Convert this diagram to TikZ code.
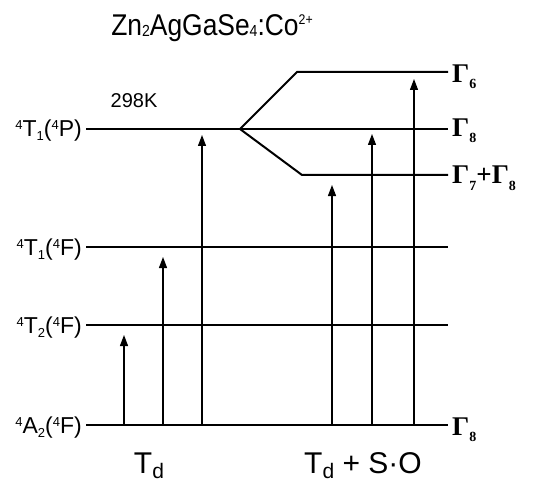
\documentclass[tikz,border=0pt]{standalone}
\usepackage{fontspec}
\setmainfont{Liberation Sans}
\newfontfamily\gfont{Liberation Serif}
\newfontfamily\titlefont[FakeStretch=0.88]{Liberation Sans}
\usetikzlibrary{arrows.meta}
\newcommand\lsup[1]{\raisebox{7pt}{\fontsize{13}{13}\selectfont #1}}
\newcommand\lsub[1]{\raisebox{-4pt}{\fontsize{13}{13}\selectfont #1}}
\newcommand\gsub[1]{\raisebox{-6pt}{\fontsize{14}{14}\selectfont #1}}
\newcommand\tsub[1]{\raisebox{-1pt}{\fontsize{16}{16}\selectfont #1}}
\newcommand\dsub[1]{\raisebox{-5pt}{\fontsize{21}{21}\selectfont #1}}
\begin{document}
\begin{tikzpicture}[x=1pt,y=-1pt,
  level/.style={line width=1.6pt},
  branch/.style={line width=2pt, line join=miter},
  trans/.style={line width=1.3pt, -{Triangle[length=11pt,width=8pt]}},
  lab/.style={font=\fontsize{23}{23}\selectfont, anchor=base east, inner sep=0pt},
  glab/.style={font=\gfont\bfseries\fontsize{27}{27}\selectfont, anchor=base west, inner sep=0pt},
  big/.style={font=\fontsize{30}{30}\selectfont, anchor=base, inner sep=0pt}
]
\useasboundingbox (0,0) rectangle (533,484);

% title
\node[font=\titlefont\fontsize{30}{30}\selectfont, anchor=base, inner sep=0pt] (title) at (212,36)
  {Zn\tsub{2}AgGaSe\tsub{4}:Co\raisebox{11pt}{\fontsize{14}{14}\selectfont 2+}};
\node[font=\fontsize{20}{20}\selectfont, anchor=base, inner sep=0pt] (temp) at (134,108) {298K};

% level end points
\coordinate (pL) at (86,129);  \coordinate (J) at (240,129);  \coordinate (pR) at (448,129);
\coordinate (uC) at (297,72);  \coordinate (uR) at (448,72);
\coordinate (lC) at (302,175); \coordinate (lR) at (448,175);
\coordinate (fL) at (86,247);  \coordinate (fR) at (448,247);
\coordinate (tL) at (86,325);  \coordinate (tR) at (448,325);
\coordinate (aL) at (86,425);  \coordinate (aR) at (448,425);

\draw[level] (pL) -- (J) -- (pR);
\draw[branch] (J) -- (uC) -- (uR);
\draw[branch] (J) -- (lC) -- (lR);
\draw[level] (fL) -- (fR);
\draw[level] (tL) -- (tR);
\draw[level] (aL) -- (aR);

% left labels
\node[lab] (lP) at (82,137) {\lsup{4}T\lsub{1}(\lsup{4}P)};
\node[lab] (lF1) at (82,255) {\lsup{4}T\lsub{1}(\lsup{4}F)};
\node[lab] (lF2) at (82,333) {\lsup{4}T\lsub{2}(\lsup{4}F)};
\node[lab] (lA) at (82,433) {\lsup{4}A\lsub{2}(\lsup{4}F)};

% right labels
\node[glab] (g6) at (452,83) {Γ\gsub{6}};
\node[glab] (g8) at (452,137) {Γ\gsub{8}};
\node[glab] (g78) at (452,184) {Γ\gsub{7}+Γ\gsub{8}};
\node[glab] (g8b) at (452,435) {Γ\gsub{8}};

% arrows
\foreach \x/\y [count=\i] in {124/335, 163/257, 202/135, 332/185, 372/134, 414/79}{
  \coordinate (s\i) at (\x,425);
  \coordinate (e\i) at (\x,\y);
  \draw[trans] (s\i) -- (e\i);
}

% bottom labels
\node[big] (td) at (149,473) {T\dsub{d}};
\node[big] (tdso) at (363,473) {T\dsub{d} + S·O};
\end{tikzpicture}
\end{document}
